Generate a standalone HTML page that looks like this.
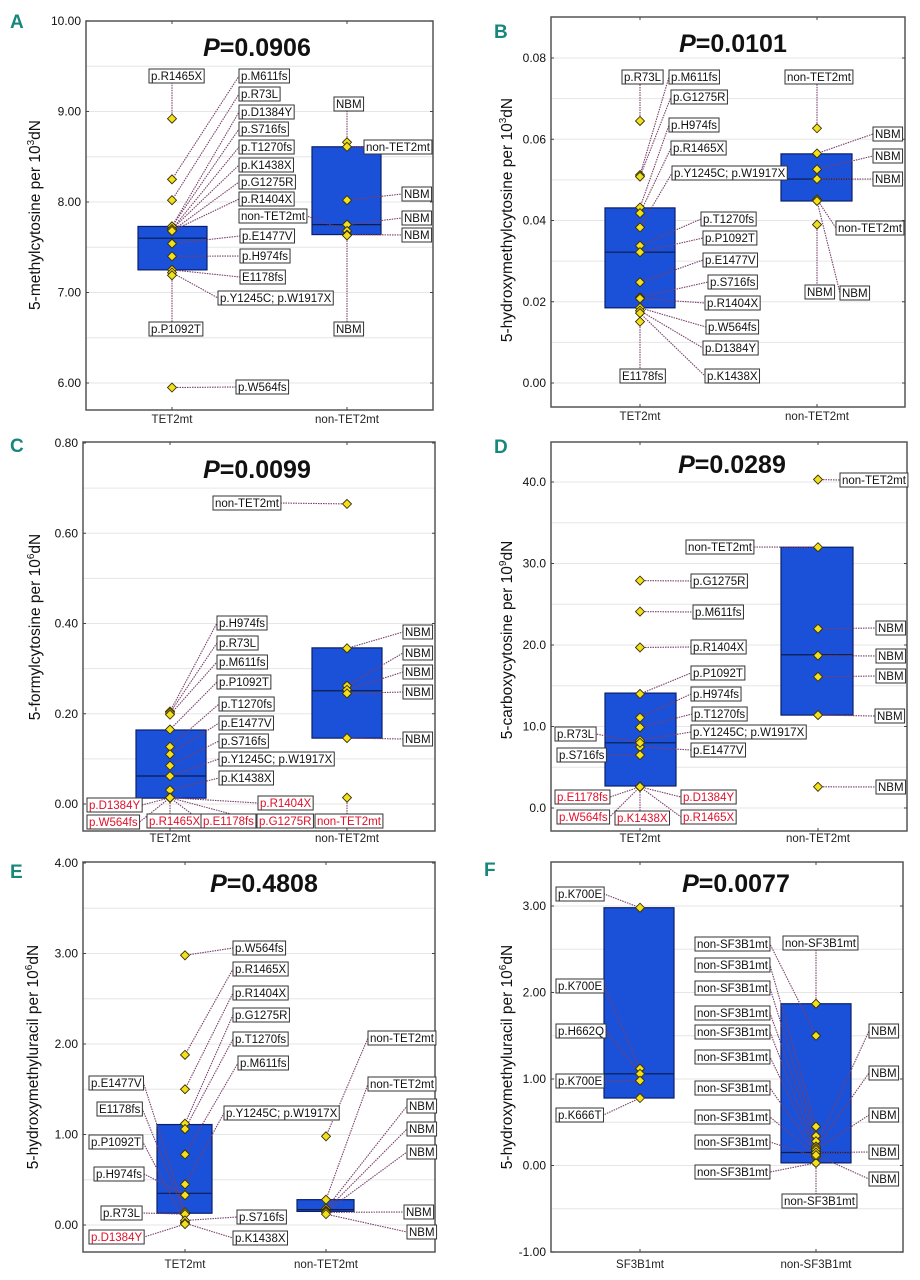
<!DOCTYPE html>
<html><head><meta charset="utf-8">
<style>
html,body{margin:0;padding:0;background:#fff;}
svg{display:block;font-family:"Liberation Sans",sans-serif;}
</style></head>
<body>
<svg id="fig" width="920" height="1280" viewBox="0 0 920 1280" xmlns="http://www.w3.org/2000/svg"></svg>
<script>
// ---------- Panel A ----------
const A_cats = ["TET2mt","non-TET2mt"];
const A_box = [[7.25,7.60,7.73],[7.64,7.75,8.61]];
const A_vals = [[8.92,8.25,8.02,7.73,7.73,7.70,7.70,7.68,7.68,7.54,7.40,7.25,7.22,7.19,5.95],[8.66,8.61,8.02,7.75,7.68,7.64,7.63]];
const A_names = [["p.R1465X","p.M611fs","p.R73L","p.D1384Y","p.S716fs","p.T1270fs","p.K1438X","p.G1275R","p.R1404X","p.E1477V","p.H974fs","E1178fs","p.Y1245C; p.W1917X","p.P1092T","p.W564fs"],["NBM","non-TET2mt","NBM","NBM","non-TET2mt","NBM","NBM"]];
const A_red = [[],[]];
const A_ticks = ["6.00","7.00","8.00","9.00","10.00"];
const A_lpos = [[[149,76],[239,76],[239,94],[239,112],[239,129],[239,147],[239,165],[239,182],[239,199],[240,236],[240,256],[240,277],[218,298],[149,329],[236,387]],[[334,104],[364,147],[402,194],[402,218],[239,216],[402,235],[334,329]]];
// ---------- Panel B ----------
const B_cats = ["TET2mt","non-TET2mt"];
const B_box = [[0.0185,0.0322,0.0431],[0.0448,0.0502,0.0564]];
const B_vals = [[0.0645,0.0512,0.0508,0.0432,0.0418,0.0383,0.0338,0.0322,0.0248,0.0211,0.0208,0.0185,0.0178,0.0172,0.0151],[0.0627,0.0565,0.0526,0.0502,0.0452,0.0390,0.0448]];
const B_names = [["p.R73L","p.M611fs","p.G1275R","p.H974fs","p.R1465X","p.Y1245C; p.W1917X","p.T1270fs","p.P1092T","p.E1477V","p.S716fs","p.R1404X","p.W564fs","p.D1384Y","p.K1438X","E1178fs"],["non-TET2mt","NBM","NBM","NBM","non-TET2mt","NBM","NBM"]];
const B_red = [[],[]];
const B_ticks = ["0.00","0.02","0.04","0.06","0.08"];
const B_lpos = [[[622,77],[669,77],[671,97],[669,125],[671,148],[672,173],[701,219],[703,238],[703,260],[708,282],[705,303],[706,327],[703,348],[705,376],[620,376]],[[785,77],[873,134],[873,156],[873,179],[836,228],[805,292],[840,293]]];
// ---------- Panel C ----------
const C_cats = ["TET2mt","non-TET2mt"];
const C_box = [[0.013,0.062,0.164],[0.146,0.251,0.346]];
const C_vals = [[0.205,0.202,0.198,0.165,0.127,0.110,0.085,0.062,0.031,0.014,0.014,0.014,0.014,0.014,0.014],[0.665,0.345,0.262,0.253,0.245,0.146,0.014]];
const C_names = [["p.H974fs","p.R73L","p.M611fs","p.P1092T","p.T1270fs","p.E1477V","p.S716fs","p.Y1245C; p.W1917X","p.K1438X","p.D1384Y","p.W564fs","p.R1465X","p.E1178fs","p.R1404X","p.G1275R"],["non-TET2mt","NBM","NBM","NBM","NBM","NBM","non-TET2mt"]];
const C_red = [[9,10,11,12,13,14],[6]];
const C_ticks = ["0.00","0.20","0.40","0.60","0.80"];
const C_lpos = [[[217,623],[217,643],[217,662],[217,682],[219,704],[219,723],[219,741],[219,759],[219,778],[87,805],[87,822],[147,821],[201,821],[258,803],[257,821]],[[213,503],[403,632],[403,653],[403,672],[403,692],[403,739],[315,821]]];
// ---------- Panel D ----------
const D_cats = ["TET2mt","non-TET2mt"];
const D_box = [[2.7,8.0,14.1],[11.4,18.8,32.0]];
const D_vals = [[27.9,24.1,19.7,14.0,11.1,9.9,8.3,7.5,8.0,6.5,2.6,2.6,2.6,2.6,2.6],[40.3,32.0,22.0,18.7,16.1,11.4,2.6]];
const D_names = [["p.G1275R","p.M611fs","p.R1404X","p.P1092T","p.H974fs","p.T1270fs","p.Y1245C; p.W1917X","p.E1477V","p.R73L","p.S716fs","p.E1178fs","p.W564fs","p.K1438X","p.D1384Y","p.R1465X"],["non-TET2mt","non-TET2mt","NBM","NBM","NBM","NBM","NBM"]];
const D_red = [[10,11,12,13,14],[]];
const D_ticks = ["0.0","10.0","20.0","30.0","40.0"];
const D_lpos = [[[691,581],[693,612],[691,647],[691,673],[691,694],[692,714],[691,732],[691,750],[555,734],[557,755],[555,797],[557,817],[615,818],[681,797],[681,817]],[[840,480],[686,547],[876,628],[876,656],[876,676],[875,716],[876,787]]];
// ---------- Panel E ----------
const E_cats = ["TET2mt","non-TET2mt"];
const E_box = [[0.13,0.35,1.11],[0.15,0.17,0.28]];
const E_vals = [[2.98,1.88,1.50,1.12,1.06,0.78,0.45,0.14,0.12,0.03,0.33,0.12,0.05,0.02,0.01],[0.98,0.28,0.18,0.16,0.15,0.14,0.12]];
const E_names = [["p.W564fs","p.R1465X","p.R1404X","p.G1275R","p.T1270fs","p.M611fs","p.Y1245C; p.W1917X","p.E1477V","E1178fs","p.P1092T","p.H974fs","p.R73L","p.S716fs","p.K1438X","p.D1384Y"],["non-TET2mt","non-TET2mt","NBM","NBM","NBM","NBM","NBM"]];
const E_red = [[14],[]];
const E_ticks = ["0.00","1.00","2.00","3.00","4.00"];
const E_lpos = [[[233,948],[233,969],[233,993],[233,1015],[233,1039],[238,1063],[224,1113],[89,1083],[97,1109],[89,1142],[94,1174],[101,1213],[237,1217],[233,1238],[89,1237]],[[368,1038],[368,1084],[407,1106],[407,1129],[407,1152],[404,1212],[407,1232]]];
// ---------- Panel F ----------
const F_cats = ["SF3B1mt","non-SF3B1mt"];
const F_box = [[0.78,1.06,2.98],[0.03,0.15,1.87]];
const F_vals = [[2.98,1.12,1.06,0.98,0.78],[1.87,1.50,0.45,0.34,0.28,0.18,0.16,0.14,0.12,0.10,0.03,0.03,0.22,0.20,0.18,0.15,0.12]];
const F_names = [["p.K700E","p.K700E","p.H662Q","p.K700E","p.K666T"],["non-SF3B1mt","non-SF3B1mt","non-SF3B1mt","non-SF3B1mt","non-SF3B1mt","non-SF3B1mt","non-SF3B1mt","non-SF3B1mt","non-SF3B1mt","non-SF3B1mt","non-SF3B1mt","non-SF3B1mt","NBM","NBM","NBM","NBM","NBM"]];
const F_red = [[],[]];
const F_ticks = ["-1.00","0.00","1.00","2.00","3.00"];
const F_lpos = [[[556,894],[556,986],[556,1031],[556,1081],[556,1115]],[[783,943],[695,944],[695,965],[695,988],[695,1013],[695,1032],[695,1057],[695,1088],[695,1117],[695,1142],[695,1172],[782,1201],[869,1031],[869,1073],[869,1115],[869,1152],[869,1179]]];

const NS="http://www.w3.org/2000/svg";
const svg=document.getElementById('fig');
function mk(tag,attrs,parent){const e=document.createElementNS(NS,tag);for(const k in attrs)e.setAttribute(k,attrs[k]);(parent||svg).appendChild(e);return e;}

const panels=[
 {id:'a',letter:'A',lx:10,ly:28,p:'0.0906',px:257,py:56,x0:86,x1:433,y0:21,y1:410,cx:[172,347],bw:[[138,207],[312,381]],vmin:6,vmax:10,ymin:383,ymax:21,tickStep:1,grid:0.5,ytitle:['5-methylcytosine per 10','3','dN'],tx:40,ty:215,catY:423,
  cats:A_cats,box:A_box,vals:A_vals,names:A_names,red:A_red,ticks:A_ticks,lpos:A_lpos},
 {id:'b',letter:'B',lx:494,ly:38,p:'0.0101',px:733,py:52,x0:551,x1:905,y0:17,y1:407,cx:[640,817],bw:[[605,675],[781,852]],vmin:0,vmax:0.08,ymin:383,ymax:58,tickStep:0.02,grid:0.01,ytitle:['5-hydroxymethylcytosine per 10','3','dN'],tx:512,ty:220,catY:420,
  cats:B_cats,box:B_box,vals:B_vals,names:B_names,red:B_red,ticks:B_ticks,lpos:B_lpos},
 {id:'c',letter:'C',lx:10,ly:452,p:'0.0099',px:257,py:478,x0:83,x1:435,y0:442,y1:831,cx:[170,347],bw:[[136,206],[312,382]],vmin:0,vmax:0.8,ymin:804,ymax:443,tickStep:0.2,grid:0.1,ytitle:['5-formylcytosine per 10','6','dN'],tx:40,ty:627,catY:842,
  cats:C_cats,box:C_box,vals:C_vals,names:C_names,red:C_red,ticks:C_ticks,lpos:C_lpos},
 {id:'d',letter:'D',lx:494,ly:453,p:'0.0289',px:732,py:473,x0:551,x1:907,y0:442,y1:831,cx:[640,818],bw:[[605,676],[781,853]],vmin:0,vmax:40,ymin:808,ymax:482,tickStep:10,grid:5,ytitle:['5-carboxycytosine per 10','9','dN'],tx:512,ty:640,catY:842,
  cats:D_cats,box:D_box,vals:D_vals,names:D_names,red:D_red,ticks:D_ticks,lpos:D_lpos},
 {id:'e',letter:'E',lx:10,ly:878,p:'0.4808',px:264,py:892,x0:83,x1:435,y0:862,y1:1252,cx:[185,326],bw:[[157,212],[297,354]],vmin:0,vmax:4,ymin:1225,ymax:863,tickStep:1,grid:0.5,ytitle:['5-hydroxymethyluracil per 10','6','dN'],tx:38,ty:1057,catY:1268,
  cats:E_cats,box:E_box,vals:E_vals,names:E_names,red:E_red,ticks:E_ticks,lpos:E_lpos},
 {id:'f',letter:'F',lx:484,ly:876,p:'0.0077',px:736,py:892,x0:551,x1:903,y0:862,y1:1252,cx:[640,816],bw:[[604,674],[781,851]],vmin:-1,vmax:3,ymin:1252,ymax:906,tickStep:1,grid:0.5,ytitle:['5-hydroxymethyluracil per 10','6','dN'],tx:512,ty:1057,catY:1268,
  cats:F_cats,box:F_box,vals:F_vals,names:F_names,red:F_red,ticks:F_ticks,lpos:F_lpos}
];

panels.forEach(P=>{
  const g=mk('g',{});
  
  
  const y=v=>P.ymin+(v-P.vmin)*(P.ymax-P.ymin)/(P.vmax-P.vmin);
  const nG=Math.round((P.vmax-P.vmin)/P.grid);
  for(let i=-2;i<=nG+2;i++){const v=P.vmin+i*P.grid;const yy=y(v);if(yy<P.y0+2||yy>P.y1-2)continue;
    const l=mk('line',{x1:P.x0,x2:P.x1,y1:yy,y2:yy,stroke:'#e6e6e6','stroke-width':1},g);
    }
  const fr=mk('rect',{x:P.x0,y:P.y0,width:P.x1-P.x0,height:P.y1-P.y0,fill:'none',stroke:'#555','stroke-width':1.5},g);
  
  P.ticks.forEach((t,i)=>{const v=P.vmin+i*P.tickStep;const yy=y(v);
    mk('line',{x1:P.x0,x2:P.x0+3,y1:yy,y2:yy,stroke:'#444'},g);
    mk('line',{x1:P.x1-3,x2:P.x1,y1:yy,y2:yy,stroke:'#444'},g);
    const tx=mk('text',{x:P.x0-5,y:yy+4,'text-anchor':'end','font-size':12,fill:'#111'},g);
    tx.textContent=t;});
  P.cx.forEach(cx=>{mk('line',{x1:cx,x2:cx,y1:P.y0,y2:P.y0+3,stroke:'#444'},g);mk('line',{x1:cx,x2:cx,y1:P.y1-3,y2:P.y1,stroke:'#444'},g);});
  const yt=mk('text',{x:0,y:0,transform:`translate(${P.tx},${P.ty}) rotate(-90)`,'text-anchor':'middle','font-size':15.5,fill:'#111'},g);
  
  yt.appendChild(document.createTextNode(P.ytitle[0]));
  const sup=mk('tspan',{'font-size':10,dy:-6},yt);sup.textContent=P.ytitle[1];
  const rest=mk('tspan',{dy:6},yt);rest.textContent=P.ytitle[2];
  P.cats.forEach((c,i)=>{const t=mk('text',{x:P.cx[i],y:P.catY,'text-anchor':'middle','font-size':11.5,fill:'#222'},g);
    t.textContent=c;});
  const lt=mk('text',{x:P.lx,y:P.ly,'font-size':19,'font-weight':'bold',fill:'#17877d'},g);
  lt.textContent=P.letter;
  const pt=mk('text',{x:P.px,y:P.py,'text-anchor':'middle','font-size':25,'font-weight':'bold',fill:'#111'},g);
  
  const it=mk('tspan',{'font-style':'italic'},pt);it.textContent='P';
  pt.appendChild(document.createTextNode('='+P.p));
  P.box.forEach((b,i)=>{const top=y(b[2]),bot=y(b[0]);
    const r=mk('rect',{x:P.bw[i][0],y:top,width:P.bw[i][1]-P.bw[i][0],height:bot-top,fill:'#1b50d8',stroke:'#0b1e6a','stroke-width':1.2},g);
    
    const m=mk('line',{x1:P.bw[i][0],x2:P.bw[i][1],y1:y(b[1]),y2:y(b[1]),stroke:'#0b1e4a','stroke-width':1.2},g);
    });
  const lineG=mk('g',{},g), ptG=mk('g',{},g), labG=mk('g',{},g);
  P.vals.forEach((arr,gi)=>{
    arr.forEach((v,k)=>{
      const px=P.cx[gi],py=y(v);
      const name=P.names[gi][k];const pos=P.lpos[gi][k];
      const isRed=P.red[gi].indexOf(k)>=0;
      if(name&&pos){
        const t=mk('text',{x:pos[0]+2,y:pos[1]+4,'font-size':11.5,fill:isRed?'#e0102a':'#111'},labG);
        t.textContent=name;
        
        
        const w=t.getComputedTextLength()+4;
        const r=mk('rect',{x:pos[0],y:pos[1]-7,width:w,height:14,fill:'#fff',stroke:'#333','stroke-width':1},labG);
        
        
        labG.insertBefore(r,t);
        let ax,ay;
        if(pos[0]>px+4){ax=pos[0];ay=pos[1];}
        else if(pos[0]+w<px-4){ax=pos[0]+w;ay=pos[1];}
        else if(pos[1]<py){ax=px;ay=pos[1]+7;}
        else {ax=px;ay=pos[1]-7;}
        const ln=mk('line',{x1:px,y1:py,x2:ax,y2:ay,stroke:'#7a3f6a','stroke-width':1.1,'stroke-dasharray':'1.5,1'},lineG);
        
        
      }
      const d=mk('path',{d:`M${px},${py-4.5}L${px+4.5},${py}L${px},${py+4.5}L${px-4.5},${py}Z`,fill:'#f2e01e',stroke:'#3a3000','stroke-width':0.9},ptG);
      
      
    });
  });
});
</script>
</body></html>
